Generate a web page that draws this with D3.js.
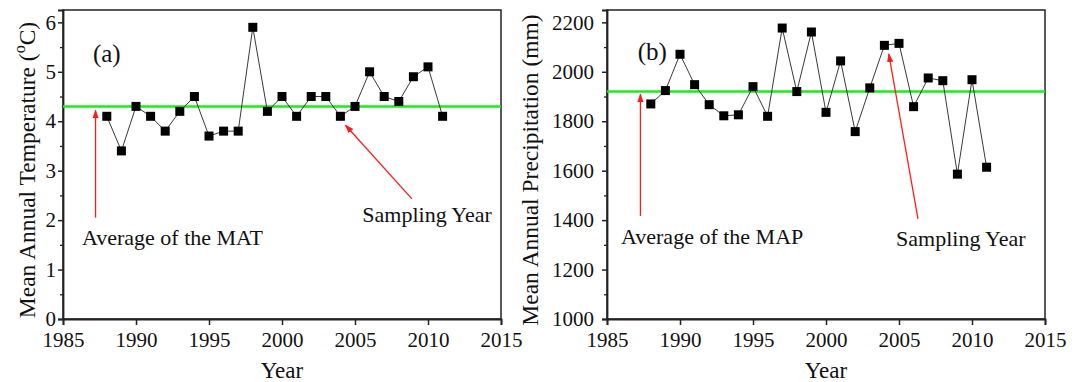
<!DOCTYPE html>
<html>
<head>
<meta charset="utf-8">
<script src="https://cdn.jsdelivr.net/npm/d3@7"></script>
<style>
  body { margin: 0; background: #fff; }
  svg text, .tick text { font-family: "Liberation Serif", "Times New Roman", serif !important; fill: #111; }
</style>
</head>
<body>
<svg id="chart" width="1081" height="382"></svg>
<script>
// years of record
const years = [1988, 1989, 1990, 1991, 1992, 1993, 1994, 1995, 1996, 1997, 1998, 1999,
               2000, 2001, 2002, 2003, 2004, 2005, 2006, 2007, 2008, 2009, 2010, 2011];
// mean annual temperature (C)
const matValues = [4.1, 3.4, 4.3, 4.1, 3.8, 4.2, 4.5, 3.7, 3.8, 3.8, 5.9, 4.2,
                   4.5, 4.1, 4.5, 4.5, 4.1, 4.3, 5.0, 4.5, 4.4, 4.9, 5.1, 4.1];
// mean annual precipitation (mm)
const mapValues = [1870, 1924, 2071, 1948, 1867, 1822, 1826, 1940, 1820, 2177, 1920, 2161,
                   1836, 2044, 1758, 1935, 2107, 2115, 1859, 1975, 1964, 1586, 1968, 1614];
const matAverage = 4.3;
const mapAverage = 1920;
const samplingYear = 2004;
const xTicks = [1985, 1990, 1995, 2000, 2005, 2010, 2015];
const matTicks = [0, 1, 2, 3, 4, 5, 6];
const mapTicks = [1000, 1200, 1400, 1600, 1800, 2000, 2200];

const svg = d3.select('#chart');
const defs = svg.append('defs');
defs.append('marker')
    .attr('id', 'arrowhead')
    .attr('viewBox', '0 0 10 10')
    .attr('refX', 9).attr('refY', 5)
    .attr('markerWidth', 9).attr('markerHeight', 9)
    .attr('markerUnits', 'userSpaceOnUse')
    .attr('orient', 'auto')
    .append('path')
    .attr('d', 'M0,1.5 L10,5 L0,8.5 Z')
    .attr('fill', '#ff1a1a');

function drawPanel(cfg) {
    const x = d3.scaleLinear().domain([1985, 2015]).range([cfg.left, cfg.right]);
    const y = d3.scaleLinear().domain(cfg.domain).range([319, 10]);
    const g = svg.append('g');

    // frame (top & right)
    g.append('rect')
        .attr('x', cfg.left).attr('y', 10)
        .attr('width', cfg.right - cfg.left).attr('height', 309)
        .attr('fill', 'none').attr('stroke', '#222').attr('stroke-width', 1.5);

    // minor y ticks
    const yMinor = d3.axisLeft(y).tickValues(cfg.minorTicks).tickSize(3).tickFormat('');
    g.append('g').attr('transform', `translate(${cfg.left},0)`).call(yMinor)
        .call(a => a.select('.domain').remove())
        .selectAll('line').attr('stroke', '#222').attr('stroke-width', 1.3);

    const yAxis = d3.axisLeft(y).tickValues(cfg.ticks).tickSize(5).tickPadding(cfg.yPad)
        .tickFormat(d3.format('d'));
    const ya = g.append('g').attr('transform', `translate(${cfg.left},0)`).call(yAxis);
    ya.attr('font-family', null);
    ya.select('.domain').attr('stroke', '#222').attr('stroke-width', 1.8);
    ya.selectAll('line').attr('stroke', '#222').attr('stroke-width', 1.5);
    ya.selectAll('text').attr('font-size', 21).attr('fill', '#111');

    const xAxis = d3.axisBottom(x).tickValues(xTicks).tickSize(6).tickPadding(7)
        .tickFormat(d3.format('d'));
    const xa = g.append('g').attr('transform', 'translate(0,319)').call(xAxis);
    xa.attr('font-family', null);
    xa.select('.domain').attr('stroke', '#222').attr('stroke-width', 1.8);
    xa.selectAll('line').attr('stroke', '#222').attr('stroke-width', 1.5);
    xa.selectAll('text').attr('font-size', 21).attr('fill', '#111');

    // axis titles
    g.append('text')
        .attr('x', (cfg.left + cfg.right) / 2).attr('y', 378)
        .attr('text-anchor', 'middle').attr('font-size', 23)
        .text('Year');
    const yt = g.append('text')
        .attr('transform', `translate(${cfg.titleX},170) rotate(-90)`)
        .attr('text-anchor', 'middle').attr('font-size', 23.5);
    yt.append('tspan').text(cfg.title);
    if (cfg.unitSup) {
        yt.append('tspan').attr('dy', -10).attr('font-size', 16).text('o');
        yt.append('tspan').attr('dy', 10).text('C)');
    }

    // average line
    g.append('line')
        .attr('x1', cfg.left).attr('x2', cfg.right)
        .attr('y1', y(cfg.average)).attr('y2', y(cfg.average))
        .attr('stroke', '#1aee1a').attr('stroke-width', 2.5);

    // series
    const pts = years.map((yr, i) => ({ year: yr, value: cfg.values[i] }));
    g.append('path')
        .datum(pts)
        .attr('fill', 'none').attr('stroke', '#222').attr('stroke-width', 0.9)
        .attr('d', d3.line().x(d => x(d.year)).y(d => y(d.value)));
    const s = 9;
    g.selectAll('rect.pt').data(pts).join('rect')
        .attr('class', 'pt')
        .attr('x', d => x(d.year) - s / 2).attr('y', d => y(d.value) - s / 2)
        .attr('width', s).attr('height', s).attr('fill', '#000');

    // annotations
    cfg.arrows.forEach(a => {
        g.append('line')
            .attr('x1', x(a[0])).attr('y1', y(a[1]))
            .attr('x2', x(a[2])).attr('y2', y(a[3]))
            .attr('stroke', '#ff1a1a').attr('stroke-width', 1.3)
            .attr('marker-end', 'url(#arrowhead)');
    });
    cfg.labels.forEach(l => {
        g.append('text')
            .attr('x', x(l.x)).attr('y', y(l.y))
            .attr('font-size', l.size).text(l.text);
    });
}

drawPanel({
    left: 63, right: 501, domain: [0, 6.25],
    ticks: matTicks, minorTicks: [0.5, 1.5, 2.5, 3.5, 4.5, 5.5], yPad: 2,
    values: matValues, average: matAverage,
    title: 'Mean Annual Temperature (', unitSup: true, titleX: 35,
    arrows: [[1987.23, 2.05, 1987.23, 4.22], [2008.9, 2.43, samplingYear + 0.35, 3.92]],
    labels: [
        { x: 1987.05, y: 5.2, text: '(a)', size: 25 },
        { x: 1986.3, y: 1.5, text: 'Average of the MAT', size: 22 },
        { x: 2005.5, y: 1.96, text: 'Sampling Year', size: 22 }
    ]
});

drawPanel({
    left: 607, right: 1045, domain: [1000, 2250],
    ticks: mapTicks, minorTicks: [1100, 1300, 1500, 1700, 1900, 2100], yPad: 8,
    values: mapValues, average: mapAverage,
    title: 'Mean Annual Precipitation (mm)', unitSup: false, titleX: 538,
    arrows: [[1987.29, 1417, 1987.29, 1910], [2006.3, 1405, samplingYear + 0.3, 2072]],
    labels: [
        { x: 1987.1, y: 2048, text: '(b)', size: 25 },
        { x: 1985.96, y: 1303, text: 'Average of the MAP', size: 22 },
        { x: 2004.8, y: 1295, text: 'Sampling Year', size: 22 }
    ]
});
</script>
</body>
</html>
